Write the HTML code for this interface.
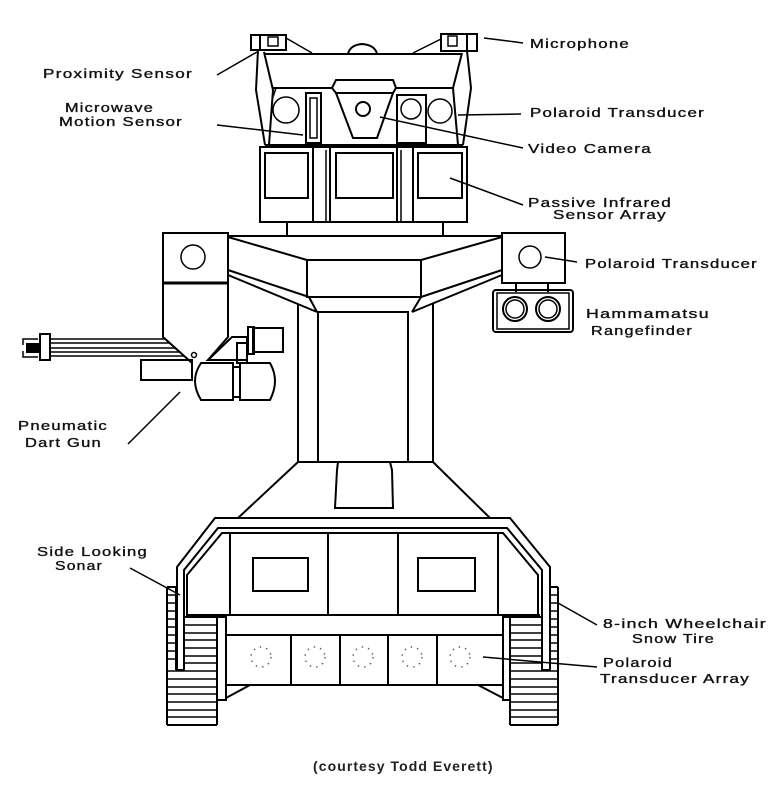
<!DOCTYPE html>
<html><head><meta charset="utf-8"><style>
html,body{margin:0;padding:0;background:#fff;}
svg{display:block;}
text{font-family:"Liberation Sans",sans-serif;font-size:13px;fill:#111;stroke:#111;stroke-width:0.35;letter-spacing:1px;}
</style></head><body>
<svg width="781" height="791" viewBox="0 0 781 791" xmlns="http://www.w3.org/2000/svg">
<g fill="none" stroke="#000" stroke-width="2" stroke-linejoin="miter">
<!-- HEAD sensors -->
<rect x="251" y="35" width="35" height="15"/>
<line x1="260" y1="35" x2="260" y2="50"/>
<rect x="268" y="37" width="10" height="9" stroke-width="1.5"/>
<rect x="441" y="34" width="36" height="17"/>
<line x1="467" y1="34" x2="467" y2="51"/>
<rect x="448" y="36" width="9" height="10" stroke-width="1.5"/>
<line x1="286" y1="38" x2="312" y2="53" stroke-width="1.5"/>
<line x1="441" y1="39" x2="413" y2="53" stroke-width="1.5"/>
<path d="M348,54 Q350,45 362,44 Q375,45 377,54"/>
<line x1="265" y1="54" x2="462" y2="54"/>
<!-- head sides -->
<polyline points="258,50 256,90 265,145"/>
<polyline points="264,52 273,90 269,145"/>
<polyline points="467,51 471,88 463,145"/>
<polyline points="462,53 453,88 458,145"/>
<line x1="276" y1="88" x2="272" y2="100" stroke-width="1.5"/>
<line x1="272" y1="88" x2="333" y2="88"/>
<line x1="395" y1="88" x2="453" y2="88"/>
<!-- camera -->
<polygon points="332,88 336,80 393,80 396,88 393,93 336,93"/>
<polygon points="336,93 393,93 377,138 353,138"/>
<circle cx="363" cy="109" r="7"/>
<!-- transducers -->
<circle cx="286" cy="110" r="13" stroke-width="1.5"/>
<rect x="306" y="93" width="15" height="50"/>
<rect x="310" y="98" width="7" height="40" stroke-width="1.5"/>
<rect x="397" y="95" width="29" height="48"/>
<circle cx="411" cy="109" r="10" stroke-width="1.5"/>
<circle cx="440" cy="111" r="12" stroke-width="1.5"/>
<line x1="265" y1="145" x2="463" y2="145"/>
<!-- sensor array -->
<rect x="260" y="147" width="207" height="75"/>
<rect x="265" y="153" width="43" height="45"/>
<rect x="336" y="153" width="57" height="45"/>
<rect x="418" y="153" width="44" height="45"/>
<line x1="313" y1="147" x2="313" y2="222"/>
<line x1="326" y1="150" x2="326" y2="222" stroke-width="1.5"/>
<line x1="330" y1="147" x2="330" y2="222"/>
<line x1="397" y1="147" x2="397" y2="222"/>
<line x1="401" y1="150" x2="401" y2="222" stroke-width="1.5"/>
<line x1="413" y1="147" x2="413" y2="222"/>
<!-- neck -->
<rect x="287" y="222" width="156" height="14"/>
<!-- shoulders -->
<line x1="228" y1="236" x2="502" y2="236"/>
<rect x="163" y="233" width="65" height="50"/>
<circle cx="193" cy="257" r="12" stroke-width="1.5"/>
<rect x="502" y="233" width="63" height="50"/>
<circle cx="530" cy="257" r="11" stroke-width="1.5"/>
<line x1="228" y1="237" x2="307" y2="260"/>
<line x1="421" y1="260" x2="502" y2="237"/>
<rect x="307" y="260" width="114" height="37"/>
<line x1="228" y1="270" x2="309" y2="297"/>
<line x1="228" y1="275" x2="317" y2="312"/>
<line x1="502" y1="270" x2="421" y2="297"/>
<line x1="502" y1="275" x2="412" y2="312"/>
<line x1="309" y1="297" x2="317" y2="312"/>
<line x1="421" y1="297" x2="412" y2="312"/>
<!-- torso -->
<line x1="298" y1="304" x2="298" y2="462"/>
<line x1="433" y1="304" x2="433" y2="462"/>
<rect x="318" y="312" width="90" height="150"/>
<line x1="298" y1="462" x2="433" y2="462"/>
<polygon points="338,462 337,470 335,508 393,508 392,470 390,462"/>
<line x1="298" y1="462" x2="238" y2="518"/>
<line x1="433" y1="462" x2="490" y2="518"/>
<!-- left arm -->
<polyline points="163,283 163,337 192,363"/>
<polyline points="228,283 228,337 208,360"/>
<line x1="163" y1="283" x2="228" y2="283" stroke-width="3"/>
<circle cx="194" cy="355" r="2.5" stroke-width="1.5"/>
<polygon points="208,360 232,337 247,337 247,360"/>
<rect x="237" y="343" width="10" height="20"/>
<rect x="253" y="328" width="30" height="24"/>
<rect x="248" y="327" width="6" height="27"/>
<rect x="141" y="360" width="51" height="20"/>
<path d="M201,363 L233,363 L233,400 L201,400 Q195,390 195,381 Q195,372 201,363 Z"/>
<rect x="233" y="367" width="7" height="30"/>
<path d="M240,363 L270,363 Q275,372 275,381 Q275,390 270,400 L240,400 Z"/>
<!-- wires -->
<g stroke-width="1.5">
<line x1="50" y1="339" x2="165" y2="339"/>
<line x1="50" y1="343" x2="170" y2="343"/>
<line x1="50" y1="348" x2="175" y2="348"/>
<line x1="50" y1="352" x2="180" y2="352"/>
<line x1="50" y1="356" x2="184" y2="356"/>
<polyline points="38,339 23,339 23,345"/>
<polyline points="38,357 23,357 23,351"/>
</g>
<rect x="27" y="344" width="11" height="8" fill="#000"/>
<rect x="40" y="334" width="10" height="26"/>
<!-- right arm rangefinder -->
<line x1="516" y1="283" x2="516" y2="292"/>
<line x1="548" y1="283" x2="548" y2="292"/>
<rect x="493" y="290" width="80" height="42" rx="3"/>
<rect x="497" y="293" width="72" height="36" stroke-width="1.5"/>
<circle cx="515" cy="309" r="12"/>
<circle cx="515" cy="309" r="9" stroke-width="1.5"/>
<circle cx="548" cy="309" r="12"/>
<circle cx="548" cy="309" r="9" stroke-width="1.5"/>
<!-- fender -->
<path d="M177,670 L177,567 L215,518 L510,518 L550,567 L550,670 L542,670 L542,570 L507,528 L218,528 L184,570 L184,670 Z"/>
<path d="M187,617 L187,575 L222,533 L503,533 L538,575 L538,617"/>
<!-- body panel -->
<line x1="187" y1="615" x2="540" y2="615"/>
<line x1="230" y1="533" x2="230" y2="615"/>
<line x1="328" y1="533" x2="328" y2="615"/>
<line x1="398" y1="533" x2="398" y2="615"/>
<line x1="498" y1="533" x2="498" y2="615"/>
<rect x="253" y="558" width="55" height="33"/>
<rect x="418" y="558" width="57" height="33"/>
<!-- lower band and transducers -->
<rect x="226" y="635" width="277" height="50"/>
<line x1="291" y1="635" x2="291" y2="685"/>
<line x1="340" y1="635" x2="340" y2="685"/>
<line x1="388" y1="635" x2="388" y2="685"/>
<line x1="437" y1="635" x2="437" y2="685"/>
<rect x="217" y="617" width="9" height="83"/>
<rect x="503" y="617" width="7" height="83"/>
<line x1="226" y1="698" x2="250" y2="685"/>
<line x1="478" y1="685" x2="503" y2="698"/>
<!-- tracks left -->
<polyline points="167,587 176,587 176,670"/>
<line x1="167" y1="587" x2="167" y2="725"/>
<line x1="217" y1="617" x2="217" y2="725"/>
<line x1="184" y1="617" x2="217" y2="617"/>
<line x1="167" y1="725" x2="217" y2="725"/>
<!-- tracks right -->
<polyline points="558,587 550,587"/>
<line x1="558" y1="587" x2="558" y2="725"/>
<line x1="510" y1="617" x2="510" y2="725"/>
<line x1="510" y1="617" x2="542" y2="617"/>
<line x1="510" y1="725" x2="558" y2="725"/>
</g>
<!-- tread stripes -->
<g stroke="#000" stroke-width="1.5">
<line x1="167" y1="595" x2="176" y2="595"/><line x1="167" y1="603" x2="176" y2="603"/>
<line x1="167" y1="611" x2="176" y2="611"/><line x1="167" y1="619" x2="176" y2="619"/>
<line x1="167" y1="627" x2="176" y2="627"/><line x1="167" y1="635" x2="176" y2="635"/>
<line x1="167" y1="643" x2="176" y2="643"/><line x1="167" y1="651" x2="176" y2="651"/>
<line x1="167" y1="659" x2="176" y2="659"/>
<line x1="184" y1="625" x2="217" y2="625"/><line x1="184" y1="633" x2="217" y2="633"/>
<line x1="184" y1="640" x2="217" y2="640"/><line x1="184" y1="648" x2="217" y2="648"/>
<line x1="184" y1="656" x2="217" y2="656"/><line x1="184" y1="663" x2="217" y2="663"/>
<line x1="167" y1="671" x2="217" y2="671"/><line x1="167" y1="679" x2="217" y2="679"/>
<line x1="167" y1="687" x2="217" y2="687"/><line x1="167" y1="694" x2="217" y2="694"/>
<line x1="167" y1="702" x2="217" y2="702"/><line x1="167" y1="710" x2="217" y2="710"/>
<line x1="167" y1="717" x2="217" y2="717"/>
<line x1="550" y1="595" x2="558" y2="595"/><line x1="550" y1="603" x2="558" y2="603"/>
<line x1="550" y1="611" x2="558" y2="611"/><line x1="550" y1="619" x2="558" y2="619"/>
<line x1="550" y1="627" x2="558" y2="627"/><line x1="550" y1="635" x2="558" y2="635"/>
<line x1="550" y1="643" x2="558" y2="643"/><line x1="550" y1="651" x2="558" y2="651"/>
<line x1="550" y1="659" x2="558" y2="659"/>
<line x1="510" y1="625" x2="542" y2="625"/><line x1="510" y1="633" x2="542" y2="633"/>
<line x1="510" y1="640" x2="542" y2="640"/><line x1="510" y1="648" x2="542" y2="648"/>
<line x1="510" y1="656" x2="542" y2="656"/><line x1="510" y1="663" x2="542" y2="663"/>
<line x1="510" y1="671" x2="558" y2="671"/><line x1="510" y1="679" x2="558" y2="679"/>
<line x1="510" y1="687" x2="558" y2="687"/><line x1="510" y1="694" x2="558" y2="694"/>
<line x1="510" y1="702" x2="558" y2="702"/><line x1="510" y1="710" x2="558" y2="710"/>
<line x1="510" y1="717" x2="558" y2="717"/>
</g>
<!-- dotted transducer circles -->
<g fill="none" stroke="#666" stroke-width="1.5" stroke-dasharray="1.5 5">
<circle cx="261" cy="657" r="10"/><circle cx="315" cy="657" r="10"/>
<circle cx="363" cy="657" r="10"/><circle cx="412" cy="657" r="10"/>
<circle cx="460" cy="657" r="10"/>
</g>
<!-- leader lines -->
<g stroke="#000" stroke-width="1.5" fill="none">
<polyline points="484,38 500,40 523,43"/>
<line x1="217" y1="75" x2="257" y2="52"/>
<line x1="217" y1="125" x2="303" y2="135"/>
<line x1="458" y1="115" x2="521" y2="114"/>
<line x1="380" y1="117" x2="523" y2="148"/>
<line x1="450" y1="178" x2="523" y2="205"/>
<line x1="545" y1="257" x2="577" y2="262"/>
<line x1="180" y1="392" x2="128" y2="444"/>
<line x1="130" y1="568" x2="180" y2="595"/>
<line x1="558" y1="603" x2="597" y2="625"/>
<line x1="483" y1="657" x2="597" y2="667"/>
</g>
<!-- labels -->
<text x="530" y="48" textLength="100" lengthAdjust="spacingAndGlyphs">Microphone</text>
<text x="43" y="78" textLength="150" lengthAdjust="spacingAndGlyphs">Proximity Sensor</text>
<text x="65" y="112" textLength="89" lengthAdjust="spacingAndGlyphs">Microwave</text>
<text x="59" y="126" textLength="124" lengthAdjust="spacingAndGlyphs">Motion Sensor</text>
<text x="530" y="117" textLength="175" lengthAdjust="spacingAndGlyphs">Polaroid Transducer</text>
<text x="528" y="153" textLength="124" lengthAdjust="spacingAndGlyphs">Video Camera</text>
<text x="528" y="207" textLength="144" lengthAdjust="spacingAndGlyphs">Passive Infrared</text>
<text x="553" y="219" textLength="114" lengthAdjust="spacingAndGlyphs">Sensor Array</text>
<text x="585" y="268" textLength="173" lengthAdjust="spacingAndGlyphs">Polaroid Transducer</text>
<text x="586" y="318" textLength="124" lengthAdjust="spacingAndGlyphs">Hammamatsu</text>
<text x="591" y="335" textLength="102" lengthAdjust="spacingAndGlyphs">Rangefinder</text>
<text x="18" y="430" textLength="90" lengthAdjust="spacingAndGlyphs">Pneumatic</text>
<text x="25" y="447" textLength="77" lengthAdjust="spacingAndGlyphs">Dart Gun</text>
<text x="37" y="556" textLength="111" lengthAdjust="spacingAndGlyphs">Side Looking</text>
<text x="55" y="570" textLength="48" lengthAdjust="spacingAndGlyphs">Sonar</text>
<text x="603" y="628" textLength="164" lengthAdjust="spacingAndGlyphs">8-inch Wheelchair</text>
<text x="632" y="643" textLength="83" lengthAdjust="spacingAndGlyphs">Snow Tire</text>
<text x="603" y="667" textLength="70" lengthAdjust="spacingAndGlyphs">Polaroid</text>
<text x="600" y="683" textLength="150" lengthAdjust="spacingAndGlyphs">Transducer Array</text>
<text x="313" y="771" textLength="180" lengthAdjust="spacing" style="font-size:14px;font-weight:bold;fill:#222;stroke:none;letter-spacing:0.5px">(courtesy Todd Everett)</text>
</svg>
</body></html>
